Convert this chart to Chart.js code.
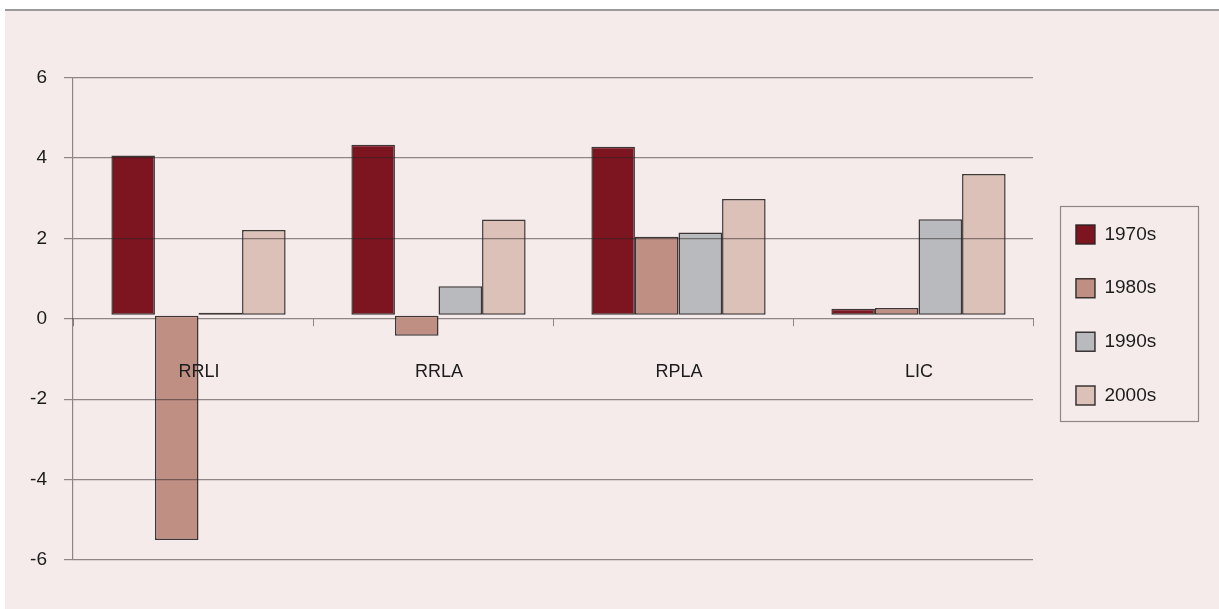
<!DOCTYPE html>
<html>
<head>
<meta charset="utf-8">
<script src="https://cdn.jsdelivr.net/npm/chart.js@4"></script>
<style>
  html, body { margin: 0; padding: 0; background: #fff; }
  #panel {
    position: absolute; left: 5px; top: 9px;
    width: 1214px; height: 598px;
    background: #f5ebea;
    border-top: 2px solid #9a9a9a;
  }
  canvas { display: block; }
</style>
</head>
<body>
<div id="panel"><canvas id="myChart" width="1214" height="598"></canvas></div>
<script>
const categories = ['RRLI', 'RRLA', 'RPLA', 'LIC'];
const decades = ['1970s', '1980s', '1990s', '2000s'];
const values1970s = [3.97, 4.24, 4.19, 0.16];
const values1980s = [-5.59, -0.51, 1.95, 0.18];
const values1990s = [0.06, 0.72, 2.06, 2.39];
const values2000s = [2.12, 2.38, 2.89, 3.51];
const yTicks = [-6, -4, -2, 0, 2, 4, 6];

const colors = ['#7c1520', '#c08f84', '#b8babd', '#dbc1b7'];
const gridColor = 'rgba(40, 34, 34, 0.5)';
const textColor = '#1c1c1c';
const font = 'Liberation Sans, Arial, sans-serif';

// the bar layer sits a few pixels right of and above the axes
const barShift = {
  id: 'barShift',
  beforeDatasetsDraw(chart) {
    chart.ctx.save();
    chart.ctx.translate(5.5, -3.5);
  },
  afterDatasetsDraw(chart) {
    chart.ctx.restore();
  }
};

// legend column on the right, with a frame round it
const legendBox = {
  id: 'legendBox',
  beforeLayout(chart) {
    const legend = chart.legend;
    if (legend._fixedWidth) return;
    const fit = legend.fit;
    legend.fit = function () {
      fit.call(this);
      this.width = 186;
    };
    legend._fixedWidth = true;
  },
  afterLayout(chart) {
    const legend = chart.legend;
    legend.left = 1036.3;
    legend.top = 179.3;
    legend.bottom = chart.height;
  },
  afterDraw(chart) {
    const ctx = chart.ctx;
    ctx.save();
    ctx.strokeStyle = '#8d8787';
    ctx.lineWidth = 1.2;
    ctx.strokeRect(1055.5, 195.5, 138, 215);
    ctx.restore();
  }
};

const series = [values1970s, values1980s, values1990s, values2000s];

const ctx = document.getElementById('myChart').getContext('2d');
const myChart = new Chart(ctx, {
  type: 'bar',
  data: {
    labels: categories,
    datasets: series.map((data, i) => ({
      label: decades[i],
      data: data,
      backgroundColor: colors[i],
      borderColor: 'rgba(40, 34, 34, 0.9)',
      borderWidth: 1.5,
      borderSkipped: false
    }))
  },
  options: {
    responsive: false,
    animation: false,
    layout: {
      padding: { left: 0, right: 0, top: 66.5, bottom: 49 }
    },
    datasets: {
      bar: {
        categoryPercentage: 0.726,
        barPercentage: 1
      }
    },
    plugins: {
      tooltip: { enabled: false },
      legend: {
        position: 'right',
        align: 'start',
        labels: {
          boxWidth: 19,
          boxHeight: 19,
          padding: 34.67,
          color: textColor,
          font: { family: font, size: 19 }
        }
      }
    },
    scales: {
      // zero line and tick marks stay under the bars, names go over them
      x: {
        position: { y: 0 },
        grid: {
          drawOnChartArea: false,
          drawTicks: true,
          tickLength: 7,
          color: gridColor,
          offset: true
        },
        border: { display: true, color: gridColor, width: 1.2 },
        ticks: {
          z: 1,
          color: textColor,
          padding: 35,
          labelOffset: 6,
          font: { family: font, size: 18 }
        }
      },
      // horizontal grid is drawn over the bars
      y: {
        min: yTicks[0],
        max: yTicks[yTicks.length - 1],
        afterFit(scale) {
          scale.width = 68;
        },
        afterBuildTicks(scale) {
          scale.ticks = yTicks.map(v => ({ value: v }));
        },
        grid: {
          z: 1,
          color: c => (c.tick && c.tick.value === 0) ? 'rgba(0,0,0,0)' : gridColor,
          tickColor: gridColor,
          tickLength: 9,
          lineWidth: 1.2
        },
        border: { display: true, z: 1, color: gridColor, width: 1.2 },
        ticks: {
          z: 1,
          color: textColor,
          padding: 17,
          font: { family: font, size: 19 }
        }
      }
    }
  },
  plugins: [barShift, legendBox]
});
</script>
</body>
</html>
